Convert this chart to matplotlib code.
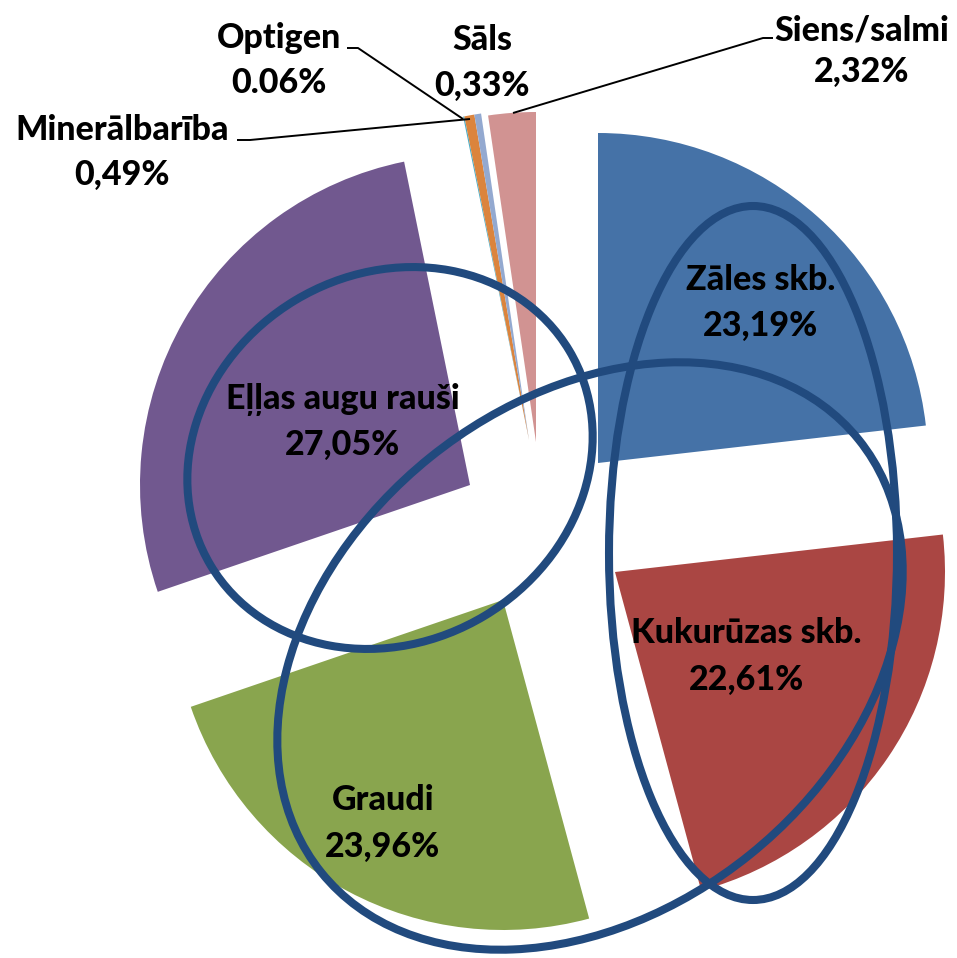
import matplotlib.pyplot as plt
from matplotlib.patches import Ellipse

# data
names = ['Zāles skb.', 'Kukurūzas skb.', 'Graudi', 'Eļļas augu rauši',
         'Optigen', 'Minerālbarība', 'Sāls', 'Siens/salmi']
shares = [23.19, 22.61, 23.96, 27.05, 0.06, 0.49, 0.33, 2.32]
share_text = ['23,19%', '22,61%', '23,96%', '27,05%', '0.06%', '0,49%', '0,33%', '2,32%']
colors = ['#4572A7', '#AA4643', '#89A54E', '#71588F',
          '#4BACC6', '#DB843D', '#93A9D0', '#D19392']

W, H = 957, 958


def Y(y):
    # picture rows run downwards, the axes run upwards
    return H - y


# layout (pixels, picture coordinates)
pie_c = (540, 470)
R = 330
shift = [(58, -7), (75, 102), (-37, 130), (-70, 15),
         (-11, -30), (-11, -30), (-11, -30), (-4, -28)]
# x centre, baseline of the name, baseline of the percentage
label_pos = [(761, 290, 336), (746, 643, 690), (383, 810, 857), (343, 409, 455),
             (279, 48, 93), (122, 140, 185), (482, 50, 96), (862, 40, 82)]
leaders = {4: [(347, 48), (358, 48), (463, 119)],
           5: [(237, 140), (250, 140), (470, 119)],
           7: [(773, 38), (763, 38), (513, 113)]}
ellipses = [((390, 458), 418, 368, 31),
            ((753, 553), 288, 694, 0),
            ((590, 656), 690, 510, 38.85)]

fig = plt.figure(figsize=(W / 100, H / 100), dpi=100)
ax = fig.add_axes([0, 0, 1, 1])

wedges, _ = ax.pie(shares, colors=colors, startangle=90, counterclock=False,
                   radius=R, center=(pie_c[0], Y(pie_c[1])),
                   wedgeprops=dict(linewidth=0))
for w, (dx, dy) in zip(wedges, shift):
    w.set_center((pie_c[0] + dx, Y(pie_c[1] + dy)))

for i, pts in leaders.items():
    ax.plot([p[0] for p in pts], [Y(p[1]) for p in pts], color='black', lw=1.4,
            solid_capstyle='butt', zorder=3)

for (c, wd, ht, ang) in ellipses:
    ax.add_patch(Ellipse((c[0], Y(c[1])), wd, ht, angle=ang, fill=False,
                         edgecolor='#214A7E', lw=5.8, zorder=4))

font = dict(family=['Lato', 'DejaVu Sans'], fontweight='black', fontsize=24.5,
            ha='center', va='baseline', zorder=5)
for name, txt, (x, yn, yv) in zip(names, share_text, label_pos):
    ax.text(x, Y(yn), name, **font)
    ax.text(x, Y(yv), txt, **font)

ax.set_xlim(0, W)
ax.set_ylim(0, H)
ax.set_aspect('equal')
ax.axis('off')

fig.savefig('out.png', dpi=100)
